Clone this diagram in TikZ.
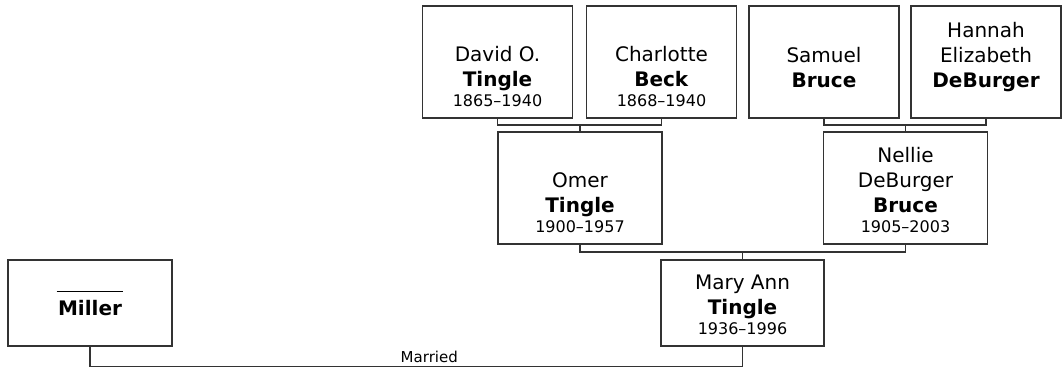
\documentclass[tikz,border=0pt]{standalone}
\usepackage{fontspec}
\setmainfont{DejaVu Sans}
\definecolor{boxline}{HTML}{333333}
\newcommand{\namefont}{\fontsize{20}{25}\selectfont}
\newcommand{\datefont}{\fontsize{16}{20}\selectfont}
\newcommand{\famcard}[5]{\parbox[c][#2][b]{#1}{\centering\namefont #3\\\textbf{#4}\par\datefont\mbox{}#5\par\vspace{11pt}}}
\tikzset{
  person/.style={draw=boxline, line width=1.2pt, inner sep=0pt, fill=white},
  link/.style={draw=boxline, line width=1.2pt},
  marriedlabel/.style={font=\fontsize{15}{18}\selectfont, inner sep=3pt},
}

\begin{document}
\begin{tikzpicture}[x=1pt, y=-1pt]
  \useasboundingbox (0,0) rectangle (1062,368);
  \node[person] (david) at (497.5,62) {\famcard{150pt}{112pt}{David O.}{Tingle}{1865–1940}};
  \node[person] (charlotte) at (661.5,62) {\famcard{150pt}{112pt}{Charlotte}{Beck}{1868–1940}};
  \node[person] (samuel) at (824,62) {\famcard{150pt}{112pt}{Samuel}{Bruce}{}};
  \node[person] (hannah) at (986,62) {\famcard{150pt}{112pt}{Hannah\\Elizabeth}{DeBurger}{}};
  \node[person] (omer) at (580,188) {\famcard{164pt}{112pt}{Omer}{Tingle}{1900–1957}};
  \node[person] (nellie) at (905.5,188) {\famcard{164pt}{112pt}{Nellie\\DeBurger}{Bruce}{1905–2003}};
  \node[person] (mary) at (742.5,303) {\famcard{163pt}{86pt}{Mary Ann}{Tingle}{1936–1996}};
  \node[person] (miller) at (90,303) {\famcard{164pt}{86pt}{\rule[-2pt]{67pt}{1pt}}{Miller}{}};
  \coordinate (j1) at (580,125);
  \coordinate (j2) at (905.5,125);
  \coordinate (j3) at (742.5,252);
  \draw[link] (david.south) |- (j1) -| (charlotte.south);
  \draw[link] (j1) -- (omer.north);
  \draw[link] (samuel.south) |- (j2) -| (hannah.south);
  \draw[link] (j2) -- (nellie.north);
  \draw[link] (omer.south) |- (j3) -| (nellie.south);
  \draw[link] (j3) -- (mary.north);
  \draw[link] (miller.south) -- ++(0,20) -| node[pos=0.26, above, marriedlabel] {Married} (mary.south);
\end{tikzpicture}
\end{document}
